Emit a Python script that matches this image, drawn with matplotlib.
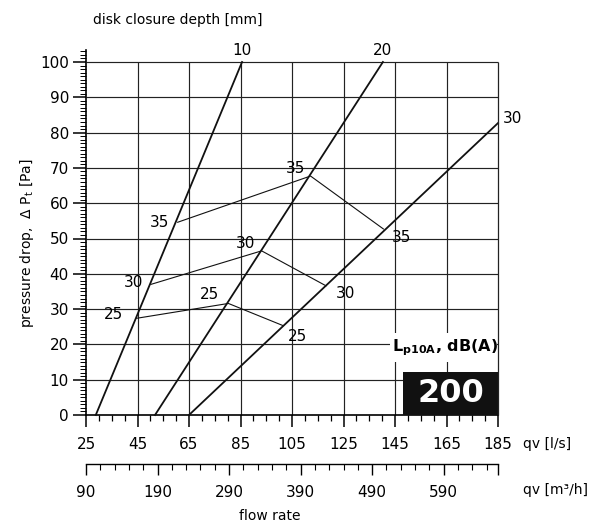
import numpy as np
import matplotlib.pyplot as plt
from matplotlib.patches import Rectangle
from matplotlib.ticker import MultipleLocator, FixedLocator

# disk closure depth lines [mm]: (qv l/s, dp Pa)
depths = ["10", "20", "30"]
depth_x = [[28.8, 85.6], [51.8, 140.3], [65.0, 185.0]]
depth_y = [[0, 100], [0, 100], [0, 82.7]]
depth_label_pos = [(85.6, 103.2), (140.3, 103.2), (190.5, 83.9)]

# sound level iso-lines Lp10A dB(A)
levels = ["25", "30", "35"]
level_x = [[44.7, 80.3, 101.6], [50.2, 93.2, 118.2], [60.6, 112.2, 140.5]]
level_y = [[27.4, 31.6, 25.3], [37.0, 46.5, 36.6], [54.6, 67.7, 52.7]]
level_label_x = [[35.5, 72.8, 107.0], [43.3, 87.0, 125.6], [53.7, 106.2, 147.6]]
level_label_y = [[28.6, 34.0, 22.1], [37.4, 48.6, 34.5], [54.5, 69.9, 50.2]]

ls_ticks = [25, 45, 65, 85, 105, 125, 145, 165, 185]
m3h_ticks = [90, 190, 290, 390, 490, 590]
dp_ticks = list(range(0, 101, 10))

W, H = 608, 524


def fx(px):
    return px / W


def fy(py):
    return 1 - py / H


fig = plt.figure(figsize=(W / 100, H / 100), dpi=100)
ax = fig.add_axes([fx(86), fy(415), fx(498) - fx(86), fy(50) - fy(415)])
ax.set_xlim(25, 185)
ax.set_ylim(0, 100 * (415 - 50) / (415 - 62))

for s in ["top", "right"]:
    ax.spines[s].set_visible(False)
for s in ["left", "bottom"]:
    ax.spines[s].set_linewidth(1.2)

# grid
ax.hlines(dp_ticks[1:], 25, 185, color="#222222", lw=0.85, zorder=1,
          clip_on=False)
ax.vlines(ls_ticks[1:-1], 0, 100, color="#222222", lw=0.85, zorder=1,
          clip_on=False)
ax.vlines(ls_ticks[-1], 0, 100, color="#222222", lw=0.9, zorder=5.5,
          clip_on=False)

ax.set_xticks(ls_ticks)
ax.xaxis.set_minor_locator(MultipleLocator(5))
ax.set_yticks(dp_ticks)
ax.yaxis.set_minor_locator(MultipleLocator(1))
ax.tick_params(axis="x", which="major", direction="out", length=8.5, width=1.1,
               pad=7.5, labelsize=11)
ax.tick_params(axis="x", which="minor", direction="out", length=4.2, width=0.9)
ax.tick_params(axis="y", which="major", direction="out", length=9.3, width=1.1,
               pad=3, labelsize=11)
ax.tick_params(axis="y", which="minor", direction="out", length=4.3, width=0.7)

for i, d in enumerate(depths):
    ax.plot(depth_x[i], depth_y[i], color="#111111", lw=1.3, zorder=3,
            clip_on=False)
    px, py = depth_label_pos[i]
    ax.text(px, py, d, fontsize=11, ha="center", va="center", clip_on=False)

for i, lv in enumerate(levels):
    ax.plot(level_x[i], level_y[i], color="#111111", lw=0.8, zorder=3)
    for tx, ty in zip(level_label_x[i], level_label_y[i]):
        ax.text(tx, ty, lv, fontsize=11, ha="center", va="center", zorder=4)

# sound level legend box
ax.add_patch(Rectangle((143.0, 15.0), 41.6, 8.2, facecolor="white",
                       edgecolor="none", zorder=2))
ax.text(164.5, 19.2, r"$\mathbf{L}_{\mathbf{p10A}}$, dB(A)", fontsize=11.5,
        fontweight="bold", ha="center", va="center", zorder=6, clip_on=False)
ax.add_patch(Rectangle((148.1, 0), 36.9, 12.2, facecolor="#111111",
                       edgecolor="none", zorder=5))
ax.text(166.6, 6.0, "200", color="white", fontsize=23, fontweight="bold",
        ha="center", va="center", zorder=6)

# second flow axis in m3/h
sec = ax.secondary_xaxis(-(463.5 - 415) / (415 - 50),
                         functions=(lambda q: q * 3.6, lambda q: q / 3.6))
sec.set_xticks(m3h_ticks + [666], labels=[str(t) for t in m3h_ticks] + [""])
sec.xaxis.set_minor_locator(FixedLocator(list(range(110, 666, 20))))
sec.spines["bottom"].set_linewidth(1.0)
sec.tick_params(axis="x", which="major", direction="out", length=7.6, width=1.0,
                pad=8, labelsize=11)
sec.tick_params(axis="x", which="minor", direction="out", length=4.0, width=0.8)

fig.text(fx(178), fy(20), "disk closure depth [mm]", fontsize=10,
         ha="center", va="center")
fig.text(fx(27), fy(243), r"pressure drop,  $\Delta$ P$_\mathregular{t}$ [Pa]",
         fontsize=10, rotation=90, ha="center", va="center")
fig.text(fx(523), fy(444), "qv [l/s]", fontsize=10, ha="left", va="center")
fig.text(fx(523), fy(490), "qv [m³/h]", fontsize=10, ha="left", va="center")
fig.text(fx(270), fy(516), "flow rate", fontsize=10, ha="center", va="center")

fig.savefig("out.png", dpi=100)
